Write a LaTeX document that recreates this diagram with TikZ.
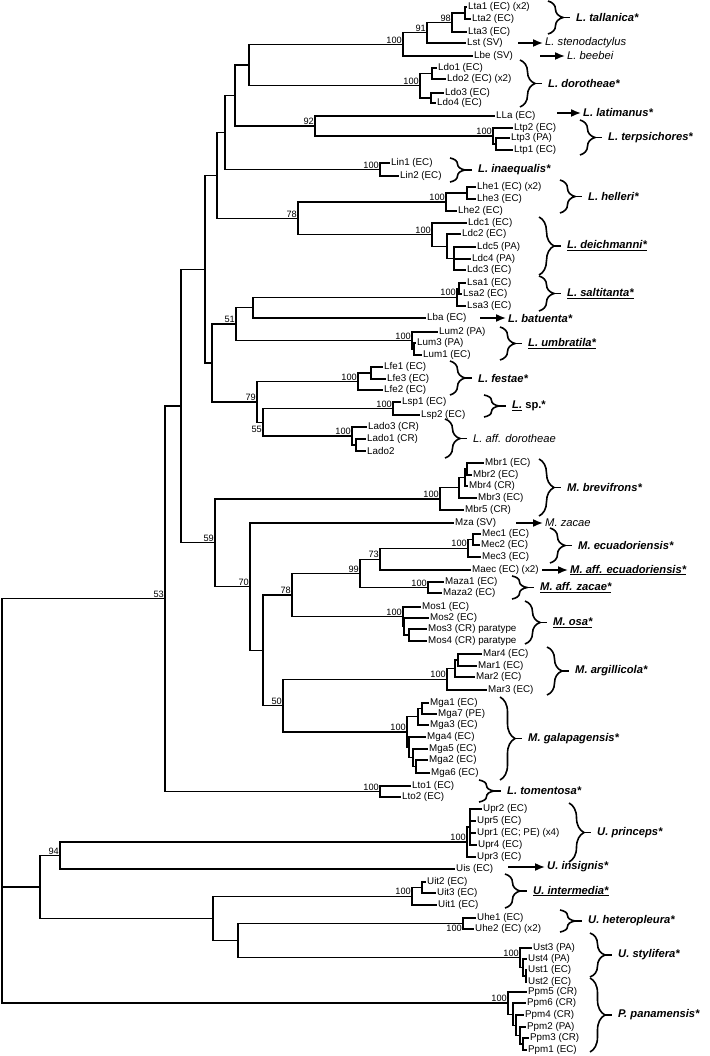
\documentclass[tikz,border=0pt]{standalone}
\usepackage{fontspec}
\setmainfont{Liberation Sans}
\usepackage{tikz}
\usetikzlibrary{%
arrows.meta,%
calc,%
decorations.pathreplacing}

\newcommand{\leaffont}{\fontsize{9.8}{11}\selectfont}
\newcommand{\bootfont}{\fontsize{9.2}{10}\selectfont}
\newcommand{\spfont}{\fontsize{11.2}{12}\selectfont\bfseries\itshape}

\tikzset{
  leaf/.style={anchor=west, inner xsep=1pt, inner ysep=0pt, font=\leaffont},
  boot/.style={anchor=south east, inner sep=1pt, font=\bootfont},
  branch/.style={line width=1.25pt},
  spbrace/.style={decorate, decoration={brace, amplitude=15pt}, line width=1.6pt},
  sparr/.style={-{Latex[length=10pt,width=8pt]}, line width=1.6pt},
  splab/.style={anchor=west, inner xsep=2pt, inner ysep=1pt, font=\spfont},
}

% clade: name, x, first child, last child
\newcommand{\clade}[4]{%
  \path ($(#3)!.5!(#4)$) coordinate (tmp);
  \coordinate (#1) at (#2,0 |- tmp);
  \draw[branch] (#1) |- (#3);
  \draw[branch] (#1) |- (#4);
}
\newcommand{\bs}[2]{\node[boot] (b-#1) at (#1) {#2};}
% species: name, text x, top, bottom, label
\newcommand{\species}[5]{%
  \draw[spbrace] (#2-28,#3) -- (#2-28,#4);
  \node[splab] (#1) at (#2-2,{(#3+#4)/2}) {#5};
  \draw[line width=1.6pt] ([xshift=-11pt]#1.west) -- ([xshift=-4pt]#1.west);
}

\begin{document}
\begin{tikzpicture}[x=1pt,y=-1pt]
\useasboundingbox (0,0) rectangle (709,1056);

% tips
\node[leaf] (lta1) at (467,7) {Lta1 (EC) (x2)};
\node[leaf] (lta2) at (471,19) {Lta2 (EC)};
\node[leaf] (lta3) at (467,32) {Lta3 (EC)};
\node[leaf] (lst) at (466,43) {Lst (SV)};
\node[leaf] (lbe) at (473,56) {Lbe (SV)};
\node[leaf] (ldo1) at (437,68) {Ldo1 (EC)};
\node[leaf] (ldo2) at (446,79) {Ldo2 (EC) (x2)};
\node[leaf] (ldo3) at (444,93) {Ldo3 (EC)};
\node[leaf] (ldo4) at (436,103) {Ldo4 (EC)};
\node[leaf] (lla) at (495,116) {LLa (EC)};
\node[leaf] (ltp2) at (513,128) {Ltp2 (EC)};
\node[leaf] (ltp3) at (510,138) {Ltp3 (PA)};
\node[leaf] (ltp1) at (513,150) {Ltp1 (EC)};
\node[leaf] (lin1) at (390,163) {Lin1 (EC)};
\node[leaf] (lin2) at (399,176) {Lin2 (EC)};
\node[leaf] (lhe1) at (476,187) {Lhe1 (EC) (x2)};
\node[leaf] (lhe3) at (476,199) {Lhe3 (EC)};
\node[leaf] (lhe2) at (457,211) {Lhe2 (EC)};
\node[leaf] (ldc1) at (467,223) {Ldc1 (EC)};
\node[leaf] (ldc2) at (461,234) {Ldc2 (EC)};
\node[leaf] (ldc5) at (476,247) {Ldc5 (PA)};
\node[leaf] (ldc4) at (471,259) {Ldc4 (PA)};
\node[leaf] (ldc3) at (466,270) {Ldc3 (EC)};
\node[leaf] (lsa1) at (466,283) {Lsa1 (EC)};
\node[leaf] (lsa2) at (462,294) {Lsa2 (EC)};
\node[leaf] (lsa3) at (466,306) {Lsa3 (EC)};
\node[leaf] (lba) at (426,318) {Lba (EC)};
\node[leaf] (lum2) at (438,332) {Lum2 (PA)};
\node[leaf] (lum3) at (416,343) {Lum3 (PA)};
\node[leaf] (lum1) at (422,355) {Lum1 (EC)};
\node[leaf] (lfe1) at (383,367) {Lfe1 (EC)};
\node[leaf] (lfe3) at (386,379) {Lfe3 (EC)};
\node[leaf] (lfe2) at (383,390) {Lfe2 (EC)};
\node[leaf] (lsp1) at (401,402) {Lsp1 (EC)};
\node[leaf] (lsp2) at (420,415) {Lsp2 (EC)};
\node[leaf] (lado3) at (367,427) {Lado3 (CR)};
\node[leaf] (lado1) at (366,439) {Lado1 (CR)};
\node[leaf] (lado2) at (366,451) {Lado2};
\node[leaf] (mbr1) at (484,463) {Mbr1 (EC)};
\node[leaf] (mbr2) at (472,475) {Mbr2 (EC)};
\node[leaf] (mbr4) at (468,486) {Mbr4 (CR)};
\node[leaf] (mbr3) at (477,498) {Mbr3 (EC)};
\node[leaf] (mbr5) at (464,510) {Mbr5 (CR)};
\node[leaf] (mza) at (454,523) {Mza (SV)};
\node[leaf] (mec1) at (481,534) {Mec1 (EC)};
\node[leaf] (mec2) at (480,545) {Mec2 (EC)};
\node[leaf] (mec3) at (481,557) {Mec3 (EC)};
\node[leaf] (maec) at (471,570) {Maec (EC) (x2)};
\node[leaf] (maza1) at (444,582) {Maza1 (EC)};
\node[leaf] (maza2) at (442,593) {Maza2 (EC)};
\node[leaf] (mos1) at (421,607) {Mos1 (EC)};
\node[leaf] (mos2) at (429,618) {Mos2 (EC)};
\node[leaf] (mos3) at (427,629) {Mos3 (CR) paratype};
\node[leaf] (mos4) at (427,641) {Mos4 (CR) paratype};
\node[leaf] (mar4) at (482,654) {Mar4 (EC)};
\node[leaf] (mar1) at (477,666) {Mar1 (EC)};
\node[leaf] (mar2) at (475,677) {Mar2 (EC)};
\node[leaf] (mar3) at (487,690) {Mar3 (EC)};
\node[leaf] (mga1) at (429,703) {Mga1 (EC)};
\node[leaf] (mga7) at (437,714) {Mga7 (PE)};
\node[leaf] (mga3) at (429,725) {Mga3 (EC)};
\node[leaf] (mga4) at (426,737) {Mga4 (EC)};
\node[leaf] (mga5) at (428,749) {Mga5 (EC)};
\node[leaf] (mga2) at (428,760) {Mga2 (EC)};
\node[leaf] (mga6) at (430,773) {Mga6 (EC)};
\node[leaf] (lto1) at (411,786) {Lto1 (EC)};
\node[leaf] (lto2) at (401,797) {Lto2 (EC)};
\node[leaf] (upr2) at (482,809) {Upr2 (EC)};
\node[leaf] (upr5) at (476,821) {Upr5 (EC)};
\node[leaf] (upr1) at (476,833) {Upr1 (EC; PE) (x4)};
\node[leaf] (upr4) at (477,845) {Upr4 (EC)};
\node[leaf] (upr3) at (476,857) {Upr3 (EC)};
\node[leaf] (uis) at (455,869) {Uis (EC)};
\node[leaf] (uit2) at (426,882) {Uit2 (EC)};
\node[leaf] (uit3) at (436,893) {Uit3 (EC)};
\node[leaf] (uit1) at (437,905) {Uit1 (EC)};
\node[leaf] (uhe1) at (476,918) {Uhe1 (EC)};
\node[leaf] (uhe2) at (474,929) {Uhe2 (EC) (x2)};
\node[leaf] (ust3) at (532,948) {Ust3 (PA)};
\node[leaf] (ust4) at (527,959) {Ust4 (PA)};
\node[leaf] (ust1) at (527,970) {Ust1 (EC)};
\node[leaf] (ust2) at (527,982) {Ust2 (EC)};
\node[leaf] (ppm5) at (527,992) {Ppm5 (CR)};
\node[leaf] (ppm6) at (526,1003) {Ppm6 (CR)};
\node[leaf] (ppm4) at (524,1015) {Ppm4 (CR)};
\node[leaf] (ppm2) at (526,1027) {Ppm2 (PA)};
\node[leaf] (ppm3) at (529,1038) {Ppm3 (CR)};
\node[leaf] (ppm1) at (527,1050) {Ppm1 (EC)};

% L, upper part
\clade{nlta}{465}{lta1}{lta2}
\clade{n98}{452}{nlta}{lta3}
\clade{n91}{427}{n98}{lst}
\clade{nltop}{403}{n91}{lbe}
\clade{nldoa}{432}{ldo1}{ldo2}
\clade{nldob}{431}{ldo3}{ldo4}
\clade{nldo}{420}{nldoa}{nldob}
\clade{na}{249}{nltop}{nldo}
\clade{nltpb}{496}{ltp3}{ltp1}
\clade{nltp}{493}{ltp2}{nltpb}
\clade{n92}{315}{lla}{nltp}
\clade{nb}{235}{na}{n92}
\clade{nlin}{380}{lin1}{lin2}
\clade{nc}{225}{nb}{nlin}
\clade{nlhea}{467}{lhe1}{lhe3}
\clade{nlhe}{446}{nlhea}{lhe2}
\clade{nldcc}{454}{ldc5}{ldc3}
\draw[branch] (nldcc) |- (ldc4);
\clade{nldcb}{447}{ldc2}{nldcc}
\clade{nldc}{432}{ldc1}{nldcb}
\clade{n78}{298}{nlhe}{nldc}
\clade{nd}{217}{nc}{n78}
\clade{nlsaa}{459}{lsa1}{lsa2}
\clade{nlsa}{457}{nlsaa}{lsa3}
\clade{nlsba}{253}{nlsa}{lba}
\clade{nluma}{414}{lum3}{lum1}
\clade{nlum}{412}{lum2}{nluma}
\clade{n51}{236}{nlsba}{nlum}
\clade{nlfea}{371}{lfe1}{lfe3}
\clade{nlfe}{358}{nlfea}{lfe2}
\clade{nlsp}{393}{lsp1}{lsp2}
\clade{nladoa}{356}{lado1}{lado2}
\clade{nlado}{352}{lado3}{nladoa}
\clade{n55}{263}{nlsp}{nlado}
\clade{n79}{257}{nlfe}{n55}
\clade{ne}{212}{n51}{n79}
\clade{nf}{205}{nd}{ne}

% M clade
\clade{nmbra}{467}{mbr1}{mbr2}
\clade{nmbrb}{465}{nmbra}{mbr4}
\clade{nmbrc}{459}{nmbrb}{mbr3}
\clade{nmbr}{440}{nmbrc}{mbr5}
\clade{nmeca}{473}{mec1}{mec2}
\clade{nmec}{468}{nmeca}{mec3}
\clade{n73}{380}{nmec}{maec}
\clade{nmaza}{428}{maza1}{maza2}
\clade{n99}{360}{n73}{nmaza}
\clade{nmosb}{409}{mos3}{mos4}
\clade{nmosa}{404}{mos2}{nmosb}
\clade{nmos}{403}{mos1}{nmosa}
\clade{n78m}{292}{n99}{nmos}
\clade{nmara}{458}{mar4}{mar1}
\clade{nmarb}{455}{nmara}{mar2}
\clade{nmar}{447}{nmarb}{mar3}
\clade{nmgaa}{422}{mga1}{mga7}
\clade{nmgab}{418}{nmgaa}{mga3}
\clade{nmgae}{416}{mga2}{mga6}
\clade{nmgad}{413}{mga5}{nmgae}
\clade{nmgac}{409}{mga4}{nmgad}
\clade{nmga}{407}{nmgab}{nmgac}
\clade{n50}{283}{nmar}{nmga}
\clade{ng}{263}{n78m}{n50}
\clade{n70}{250}{mza}{ng}
\clade{n59}{215}{nmbr}{n70}
\clade{nlto}{380}{lto1}{lto2}

% U clade
\clade{nupra}{470}{upr2}{upr4}
\draw[branch] (nupra) |- (upr5);
\draw[branch] (nupra) |- (upr1);
\clade{nupr}{467}{nupra}{upr3}
\clade{n94}{60}{nupr}{uis}
\clade{nuita}{422}{uit2}{uit3}
\clade{nuit}{412}{nuita}{uit1}
\clade{nuhe}{463}{uhe1}{uhe2}
\clade{nusta}{526}{ust1}{ust2}
\clade{nustb}{523}{ust4}{nusta}
\clade{nust}{520}{ust3}{nustb}
\clade{nh}{238}{nuhe}{nust}
\clade{ni}{213}{nuit}{nh}
\clade{nu}{40}{n94}{ni}

% outgroup and base
\clade{nppmd}{523}{ppm3}{ppm1}
\clade{nppmc}{520}{ppm2}{nppmd}
\clade{nppmb}{516}{ppm4}{nppmc}
\clade{nppma}{513}{ppm6}{nppmb}
\clade{nppm}{508}{ppm5}{nppma}
\clade{np}{181}{nf}{n59}
\clade{n53}{165}{np}{nlto}
\clade{root}{2}{n53}{nppm}
\draw[branch] (root) |- (nu);

% support values
\bs{n98}{98} \bs{n91}{91} \bs{nltop}{100} \bs{nldo}{100}
\bs{n92}{92} \bs{nltp}{100} \bs{nlin}{100} \bs{nlhe}{100}
\bs{n78}{78} \bs{nldc}{100} \bs{nlsa}{100} \bs{n51}{51}
\bs{nlum}{100} \bs{nlfe}{100} \bs{n79}{79} \bs{nlsp}{100}
\node[boot, anchor=north east, yshift=-3pt] (b-n55) at (n55) {55};
\bs{nlado}{100} \bs{nmbr}{100} \bs{n59}{59} \bs{nmec}{100}
\bs{n73}{73} \bs{n99}{99} \bs{n70}{70} \bs{n78m}{78}
\bs{nmaza}{100} \bs{nmos}{100} \bs{nmar}{100} \bs{n50}{50}
\bs{nmga}{100} \bs{nlto}{100} \bs{n53}{53} \bs{nupr}{100}
\bs{n94}{94} \bs{nuit}{100}
\node[boot, anchor=north east] (b-nuhe) at (nuhe) {100};
\bs{nust}{100} \bs{nppm}{100}

% species
\species{sp-tal}{576}{1}{34}{L. tallanica*}
\species{sp-dor}{548}{60}{107}{L. dorotheae*}
\species{sp-ter}{608}{120}{155}{L. terpsichores*}
\species{sp-ina}{478}{158}{182}{L. inaequalis*}
\species{sp-hel}{588}{180}{213}{L. helleri*}
\species{sp-dei}{567}{217}{275}{\underline{L. deichmanni*}}
\species{sp-sal}{567}{276}{311}{\underline{L. saltitanta*}}
\species{sp-umb}{528}{327}{360}{\underline{L. umbratila*}}
\species{sp-fes}{478}{361}{395}{L. festae*}
\species{sp-lsp}{512}{395}{417}{\underline{L.}\ \upshape sp.*}
\species{sp-adr}{473}{419}{458}{\mdseries L. aff. dorotheae}
\species{sp-bre}{567}{459}{516}{M. brevifrons*}
\species{sp-ecu}{578}{528}{563}{M. ecuadoriensis*}
\species{sp-aza}{540}{576}{599}{\underline{M. aff. zacae*}}
\species{sp-osa}{553}{601}{644}{\underline{M. osa*}}
\species{sp-arg}{575}{647}{695}{M. argillicola*}
\species{sp-gal}{528}{697}{780}{M. galapagensis*}
\species{sp-tom}{507}{780}{802}{L. tomentosa*}
\species{sp-pri}{597}{803}{862}{U. princeps*}
\species{sp-int}{533}{874}{908}{\underline{U. intermedia*}}
\species{sp-het}{588}{910}{932}{U. heteropleura*}
\species{sp-sty}{618}{933}{977}{U. stylifera*}
\species{sp-pan}{618}{978}{1052}{P. panamensis*}

% single tips
\node[splab] (sp-ste) at (543,43) {\mdseries L. stenodactylus};
\draw[sparr] ([xshift=-25pt]sp-ste.west) -- (sp-ste.west);
\node[splab] (sp-bee) at (565,56) {\mdseries L. beebei};
\draw[sparr] ([xshift=-25pt]sp-bee.west) -- (sp-bee.west);
\node[splab] (sp-lat) at (581,113) {L. latimanus*};
\draw[sparr] ([xshift=-24pt]sp-lat.west) -- (sp-lat.west);
\node[splab] (sp-bat) at (506,318) {L. batuenta*};
\draw[sparr] ([xshift=-26pt]sp-bat.west) -- (sp-bat.west);
\node[splab] (sp-zac) at (543,523) {\mdseries M. zacae};
\draw[sparr] ([xshift=-27pt]sp-zac.west) -- (sp-zac.west);
\node[splab] (sp-aec) at (568,570) {\underline{M. aff. ecuadoriensis*}};
\draw[sparr] ([xshift=-26pt]sp-aec.west) -- (sp-aec.west);
\node[splab] (sp-ins) at (545,867) {U. insignis*};
\draw[sparr] ([xshift=-37pt]sp-ins.west) -- (sp-ins.west);
\end{tikzpicture}
\end{document}
